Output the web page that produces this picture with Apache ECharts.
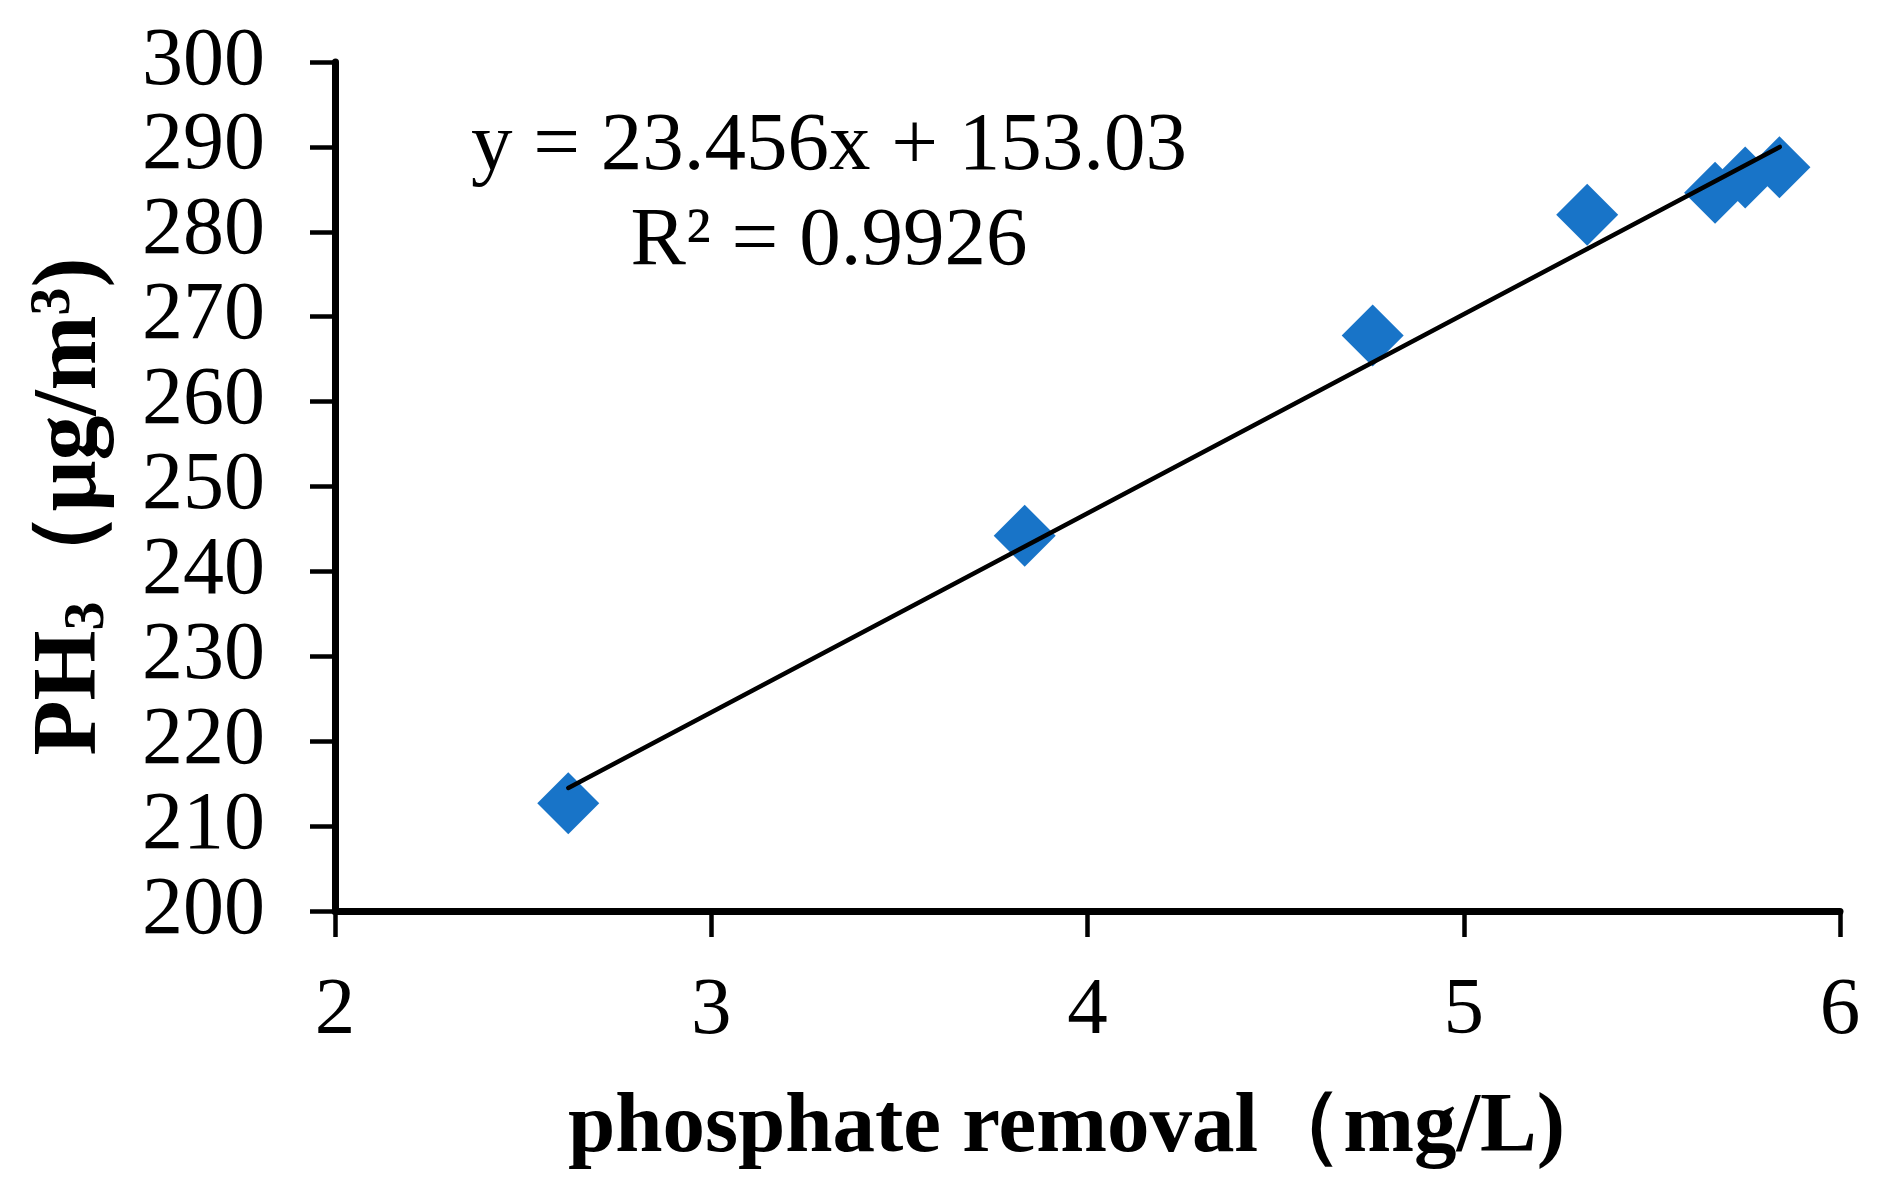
<!DOCTYPE html>
<html>
<head>
<meta charset="utf-8">
<title>PH3 vs phosphate removal</title>
<script src="https://cdn.jsdelivr.net/npm/echarts@6/dist/echarts.min.js"></script>
<style>
    html, body { margin: 0; padding: 0; background: #fff; }
    #chart { width: 1879px; height: 1196px; }
</style>
</head>
<body>
<div id="chart"></div>
<script>
// Measured points (phosphate removal mg/L, PH3 ug/m3)
const removalValues = [2.62, 3.833, 4.758, 5.328, 5.668, 5.748, 5.839];
const ph3Values = [212.7, 244.2, 267.8, 282.0, 284.6, 286.4, 287.6];

// Linear trendline end points
const trendX = [2.62, 5.84];
const trendY = [214.5, 290.0];

// Axis ranges
const xTicks = { min: 2, max: 6, step: 1 };
const yTicks = { min: 200, max: 300, step: 10 };

const equationLines = ['y = 23.456x + 153.03', 'R\u00b2 = 0.9926'];

(function () {
    'use strict';

    const chart = echarts.init(document.getElementById('chart'));
    const serif = "'Liberation Serif', 'Times New Roman', serif";

    const points = removalValues.map((x, i) => [x, ph3Values[i]]);
    const trend = trendX.map((x, i) => [x, trendY[i]]);

    const option = {
        backgroundColor: '#fff',
        animation: false,
        grid: {
            left: 335,
            right: 39,
            top: 62,
            bottom: 285,
            containLabel: false,
            outerBoundsMode: 'none'
        },
        xAxis: {
            type: 'value',
            min: xTicks.min,
            max: xTicks.max,
            interval: xTicks.step,
            splitLine: { show: false },
            axisLine: { onZero: false, lineStyle: { color: '#000', width: 7 } },
            axisTick: { length: 26, lineStyle: { color: '#000', width: 4.5 } },
            axisLabel: {
                margin: 60,
                color: '#000',
                fontFamily: serif,
                fontSize: 81
            },
            name: 'phosphate removal\uff08mg/L)',
            nameLocation: 'middle',
            nameGap: 176,
            nameTextStyle: {
                color: '#000',
                fontFamily: serif,
                fontWeight: 'bold',
                fontSize: 85,
                padding: [0, 42, 0, 0]
            }
        },
        yAxis: {
            type: 'value',
            min: yTicks.min,
            max: yTicks.max,
            interval: yTicks.step,
            splitLine: { show: false },
            axisLine: { onZero: false, lineStyle: { color: '#000', width: 7 } },
            axisTick: { length: 25, lineStyle: { color: '#000', width: 4.5 } },
            axisLabel: {
                margin: 70,
                color: '#000',
                fontFamily: serif,
                fontSize: 82
            },
            name: '{a|PH}{s|3}{a|\uff08\u03bcg/m}{p|3}{a|)}',
            nameLocation: 'middle',
            nameRotate: 90,
            nameGap: 218,
            nameTextStyle: {
                color: '#000',
                padding: [0, 40, 0, 0],
                rich: {
                    a: { fontFamily: serif, fontWeight: 'bold', fontSize: 90, color: '#000' },
                    s: { fontFamily: serif, fontWeight: 'bold', fontSize: 58, color: '#000', verticalAlign: 'bottom' },
                    p: { fontFamily: serif, fontWeight: 'bold', fontSize: 56, color: '#000', verticalAlign: 'top' }
                }
            }
        },
        graphic: [
            {
                type: 'text',
                x: 829,
                y: 195,
                silent: true,
                style: {
                    text: equationLines.join('\n'),
                    fill: '#000',
                    font: '83px ' + serif,
                    lineHeight: 95,
                    align: 'center',
                    verticalAlign: 'middle'
                }
            }
        ],
        series: [
            {
                name: 'PH3',
                type: 'scatter',
                data: points,
                symbol: 'diamond',
                symbolSize: 62,
                itemStyle: { color: '#1874c8', opacity: 1 },
                z: 2
            },
            {
                name: 'Linear fit',
                type: 'line',
                data: trend,
                showSymbol: false,
                lineStyle: { color: '#000', width: 4.5, cap: 'round' },
                z: 3
            }
        ]
    };

    chart.setOption(option);
})();
</script>
</body>
</html>
